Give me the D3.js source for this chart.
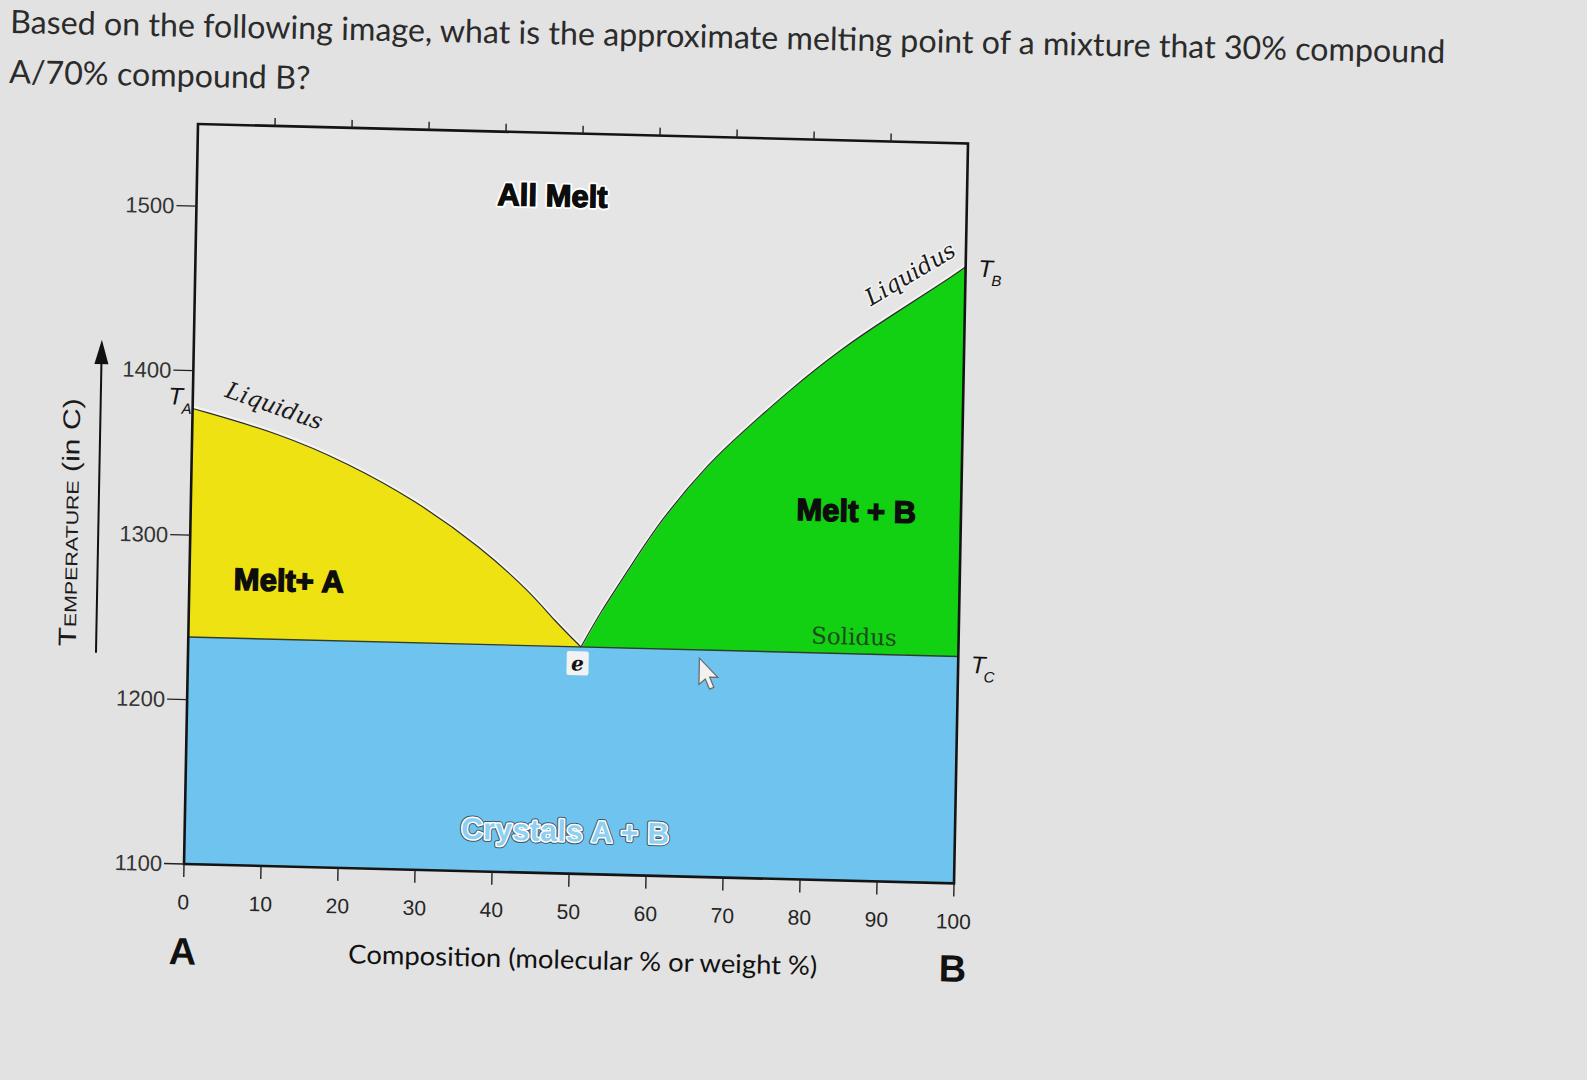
<!DOCTYPE html>
<html><head><meta charset="utf-8">
<script src="https://cdn.jsdelivr.net/npm/d3@7"></script>
<style>
  html,body{margin:0;padding:0;background:#e2e2e2;}
  svg{display:block;}
</style></head>
<body>
<svg id="chart" width="1587" height="1080"></svg>
<script>
// ---------------- data ----------------
const compositionTicks = [0,10,20,30,40,50,60,70,80,90,100];
const topTicks = [10,20,30,40,50,60,70,80,90];
const temperatureTicks = [1100,1200,1300,1400,1500];
const liquidusA_comp = [0, 11.5, 20.3, 29, 37.8, 44.4, 47.4, 51];
const liquidusA_temp = [1377, 1363, 1346, 1325, 1297, 1270, 1254, 1238];
const liquidusB_comp = [51, 53.5, 56.9, 61.1, 67.4, 71.2, 77.6, 84, 90.4, 96.8, 100];
const liquidusB_temp = [1238, 1260, 1285, 1317, 1353, 1370, 1398, 1423, 1444, 1464, 1475];
const solidusTemp = 1238;
const compDomain = [0, 100];
const tempDomain = [1100, 1550];
const questionLines = [
  "Based on the following image, what is the approximate melting point of a mixture that 30% compound",
  "A/70% compound B?"
];

// ---------------- setup ----------------
const svg = d3.select('#chart');
const W = 770, H = 740;
svg.append('rect').attr('width',1587).attr('height',1080).attr('fill','#e2e2e2');

// question text (photo is slightly tilted)
const q = svg.append('g').attr('transform','translate(10,33) rotate(1.2)');
const qt1 = q.append('text').attr('x',0).attr('y',0)
  .style('font-family','Lato').style('font-size','32px').attr('fill','#2b2b2b')
  .text(questionLines[0]);
const natural = qt1.node().getComputedTextLength();
const fs = 32 * 1436 / natural;
qt1.style('font-size', fs + 'px');
q.append('text').attr('x',0).attr('y',50)
  .style('font-family','Lato').style('font-size', fs + 'px').attr('fill','#2b2b2b')
  .text(questionLines[1]);

// plot group with slight perspective tilt of the photo
const plot = svg.append('g').attr('transform','matrix(1,0.0252,-0.0189,1,198,124)');
const x = d3.scaleLinear().domain(compDomain).range([0, W]);
const y = d3.scaleLinear().domain(tempDomain).range([H, 0]);

const A = liquidusA_comp.map((c,i)=>({c, t: liquidusA_temp[i]}));
const B = liquidusB_comp.map((c,i)=>({c, t: liquidusB_temp[i]}));

// background of plot
plot.append('rect').attr('x',0).attr('y',0).attr('width',W).attr('height',H).attr('fill','#e5e5e5');

// crystals A + B region
plot.append('rect').attr('x',x(0)).attr('y',y(solidusTemp))
  .attr('width',x(100)-x(0)).attr('height',y(1100)-y(solidusTemp)).attr('fill','#6ec4ee');

const area = d3.area().x(d=>x(d.c)).y0(y(solidusTemp)).y1(d=>y(d.t)).curve(d3.curveBasis);
const line = d3.line().x(d=>x(d.c)).y(d=>y(d.t)).curve(d3.curveBasis);

plot.append('path').attr('d',area(A)).attr('fill','#efe212');
plot.append('path').attr('d',area(B)).attr('fill','#12d012');

// liquidus curves with light halo
[A,B].forEach(data=>{
  plot.append('path').attr('d',line(data)).attr('fill','none').attr('stroke','#f4f4f0').attr('stroke-width',3).attr('transform','translate(0,-1.5)');
  plot.append('path').attr('d',line(data)).attr('fill','none').attr('stroke','#2a2a2a').attr('stroke-width',1.2);
});
// solidus
plot.append('line').attr('x1',x(0)).attr('x2',x(100)).attr('y1',y(solidusTemp)).attr('y2',y(solidusTemp))
  .attr('stroke','#2e3b2e').attr('stroke-width',1.4);

// frame
plot.append('rect').attr('x',x(0)).attr('y',y(tempDomain[1])).attr('width',x(100)-x(0)).attr('height',y(1100)-y(tempDomain[1]))
  .attr('fill','none').attr('stroke','#141414').attr('stroke-width',2.6);

// top ticks
plot.selectAll('.tt').data(topTicks).join('line')
  .attr('x1',d=>x(d)).attr('x2',d=>x(d)).attr('y1',y(tempDomain[1])).attr('y2',y(tempDomain[1])-8)
  .attr('stroke','#222').attr('stroke-width',1.4);
// bottom ticks
plot.selectAll('.bt').data(compositionTicks).join('line')
  .attr('x1',d=>x(d)).attr('x2',d=>x(d)).attr('y1',y(1100)).attr('y2',y(1100)+13)
  .attr('stroke','#222').attr('stroke-width',1.4);
plot.selectAll('.bl').data(compositionTicks).join('text')
  .attr('x',d=>x(d)).attr('y',y(1100)+38).attr('dy','0.35em').attr('text-anchor','middle')
  .style('font-family','Liberation Sans').style('font-size','21px').attr('fill','#262626')
  .text(d=>d);
// left ticks
plot.selectAll('.lt').data(temperatureTicks).join('line')
  .attr('x1',x(0)).attr('x2',x(0)-20).attr('y1',d=>y(d)).attr('y2',d=>y(d))
  .attr('stroke','#222').attr('stroke-width',1.3);
plot.selectAll('.ll').data(temperatureTicks).join('text')
  .attr('x',x(0)-22).attr('y',d=>y(d)).attr('dy','0.35em').attr('text-anchor','end')
  .style('font-family','Liberation Sans').style('font-size','22px').attr('fill','#333')
  .text(d=>d);

// axis titles
plot.append('text').attr('x',x(0)).attr('y',y(1100)+87).attr('dy','0.35em').attr('text-anchor','middle')
  .style('font-family','Liberation Sans').style('font-weight','bold').style('font-size','38px').attr('fill','#111').text('A');
plot.append('text').attr('x',x(100)).attr('y',y(1100)+85).attr('dy','0.35em').attr('text-anchor','middle')
  .style('font-family','Liberation Sans').style('font-weight','bold').style('font-size','38px').attr('fill','#111').text('B');
plot.append('text').attr('x',x(52)).attr('y',y(1100)+86).attr('dy','0.35em').attr('text-anchor','middle')
  .attr('textLength',469).attr('lengthAdjust','spacingAndGlyphs')
  .style('font-family','Lato').style('font-size','26px').attr('fill','#111')
  .text('Composition  (molecular % or weight %)');

// temperature title + arrow
const tg = plot.append('g').attr('transform',`translate(${x(0)-118},${y(1306)}) rotate(-90)`);
const tt = tg.append('text').attr('x',0).attr('y',0).attr('dy','0.35em').attr('text-anchor','middle')
  .attr('textLength',248).attr('lengthAdjust','spacingAndGlyphs')
  .style('font-family','Liberation Sans').attr('fill','#1a1a1a');
tt.append('tspan').style('font-size','25px').text('T');
tt.append('tspan').style('font-size','17px').text('EMPERATURE');
tt.append('tspan').style('font-size','24px').text('  (in C)');
plot.append('line').attr('x1',x(0)-92).attr('x2',x(0)-92).attr('y1',y(1227)).attr('y2',y(1405))
  .attr('stroke','#111').attr('stroke-width',2);
plot.append('path').attr('d',d3.line()([[x(0)-99,y(1405)+4],[x(0)-92,y(1415)-4],[x(0)-85,y(1405)+4]])+'Z').attr('fill','#111');

// T labels
function tLabel(px, py, sub){
  const g = plot.append('g');
  g.append('text').attr('x',px).attr('y',py).attr('text-anchor','middle')
    .style('font-family','Liberation Sans').style('font-style','italic').style('font-size','24px').attr('fill','#111').text('T');
  g.append('text').attr('x',px+11).attr('y',py+9).attr('text-anchor','middle')
    .style('font-family','Liberation Sans').style('font-style','italic').style('font-size','15px').attr('fill','#111').text(sub);
}
tLabel(x(0)-17, y(1384)+8, 'A');
tLabel(x(100)+20, y(1474)+8, 'B');
tLabel(x(100)+20, y(1233)+8, 'C');

// region labels
function bold(txt, cx, cy, size){
  plot.append('text').attr('x',cx).attr('y',cy).attr('dy','0.35em').attr('text-anchor','middle')
    .style('font-family','Liberation Sans').style('font-weight','bold').style('font-size',size+'px')
    .attr('fill','#0d0d0d').attr('stroke','#fff').attr('stroke-width',5).attr('stroke-linejoin','round')
    .style('paint-order','stroke').text(txt);
  plot.append('text').attr('x',cx).attr('y',cy).attr('dy','0.35em').attr('text-anchor','middle')
    .style('font-family','Liberation Sans').style('font-weight','bold').style('font-size',size+'px')
    .attr('fill','#0d0d0d').attr('stroke','#0d0d0d').attr('stroke-width',1.3).text(txt);
}
bold('All Melt', x(46.2), y(1512), 31);
function boldPlain(txt, cx, cy, size){
  plot.append('text').attr('x',cx).attr('y',cy).attr('dy','0.35em').attr('text-anchor','middle')
    .style('font-family','Liberation Sans').style('font-weight','bold').style('font-size',size+'px')
    .attr('fill','#0d0d0d').attr('stroke','#0d0d0d').attr('stroke-width',1.4).text(txt);
}
boldPlain('Melt+ A', x(12.9), y(1274), 31);
boldPlain('Melt + B', x(86.4), y(1325), 31);

// curve labels
plot.append('text').attr('transform',`translate(${x(10.6)},${y(1380)}) rotate(18)`)
  .attr('text-anchor','middle').attr('dy','0.35em')
  .style('font-family','DejaVu Serif').style('font-style','italic').style('font-size','23px').attr('fill','#1a1a1a').text('Liquidus');
plot.append('text').attr('transform',`translate(${x(92.8)},${y(1470)}) rotate(-32)`)
  .attr('text-anchor','middle').attr('dy','0.35em')
  .attr('stroke','#f4f4f4').attr('stroke-width',3).style('paint-order','stroke')
  .style('font-family','DejaVu Serif').style('font-style','italic').style('font-size','23px').attr('fill','#1a1a1a').text('Liquidus');
plot.append('text').attr('x',x(86.4)).attr('y',y(1248.5)).attr('dy','0.35em').attr('text-anchor','middle')
  .style('font-family','DejaVu Serif').style('font-size','23px').attr('fill','#1d4a1d').text('Solidus');

// eutectic label
plot.append('rect').attr('x',x(50.6)-11).attr('y',y(1228)-12).attr('width',22).attr('height',24).attr('fill','#f2f2f2').attr('rx',2);
plot.append('text').attr('x',x(50.6)).attr('y',y(1228)).attr('dy','0.35em').attr('text-anchor','middle')
  .style('font-family','DejaVu Serif').style('font-weight','bold').style('font-style','italic').style('font-size','20px').attr('fill','#111').text('e');

// Crystals A + B outlined text
function crystals(fill, stroke, w){
  return plot.append('text').attr('x',x(49.4)).attr('y',y(1126)).attr('dy','0.35em').attr('text-anchor','middle')
    .attr('textLength',208).attr('lengthAdjust','spacing')
    .style('font-family','Liberation Sans').style('font-weight','bold').style('font-size','30px')
    .attr('fill',fill).attr('stroke',stroke).attr('stroke-width',w).attr('stroke-linejoin','round').text('Crystals A + B');
}
crystals('#3f5566','#3f5566',5);
crystals('#ffffff','#ffffff',3);
crystals('#8fd0f2','none',0);

// mouse pointer (screen artifact in photo)
plot.append('path')
  .attr('transform',`translate(${x(66.4)},${y(1233)}) scale(1.25)`)
  .attr('d','M0,0 L0,21 L5,16.5 L8.5,24.5 L12,23 L8.5,15 L15,15 Z')
  .attr('fill','#f2f2f2').attr('stroke','#6a6a6a').attr('stroke-width',1);
</script>
</body></html>
